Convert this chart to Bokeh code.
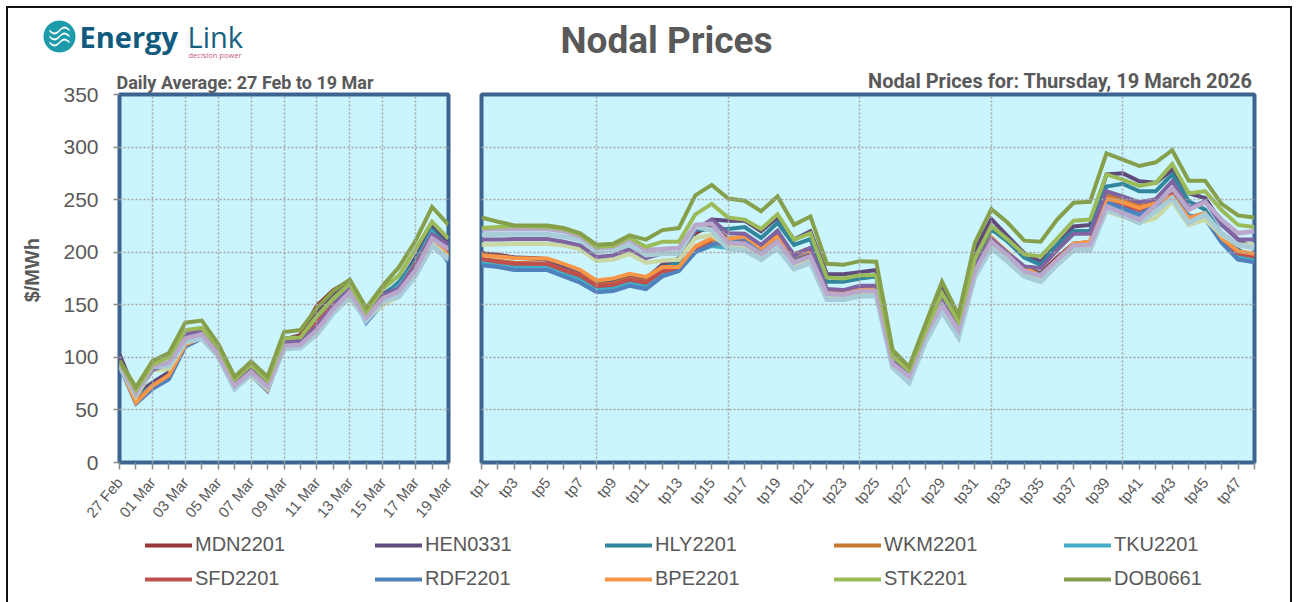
import math
from bokeh.embed import file_html
from bokeh.layouts import column, row
from bokeh.models import (FixedTicker, Label, Legend, LegendItem, PolyAnnotation, Range1d)
from bokeh.plotting import figure
from bokeh.resources import INLINE

DAYS = ["27 Feb", "28 Feb"] + [f"{d:02d} Mar" for d in range(1, 20)]
PERIODS = [f"tp{i}" for i in range(1, 49)]

# Half-hour prices, $/MWh
MDN = [199,197.5,195,194.5,193.5,187,182,171,172,176,174,188,194,218,226,212,213,203,216,198,204,163,162,165,166,93,81,121,153,126,186,213,199,185,180,195,208,209,252,248,243,247,255,233,236,214,200,197]
HEN = [198,197,195,194,193,187,182,172,173,177,175,188,194,221,231,230,230,220,233,212,220,179,179,181,183,102,88,128,166,137,202,231.5,215,199,191,207,224.5,226,274,275,267.5,266,278.5,256,251.5,228,212,203]
HLY = [190.5,189,187,186.5,186,180,175,167,168,172,170,185,190,221,222,222,224,213.5,228,207,212.5,172,172,175,177,98,85,125,158,132,190,222,210,195,188,207,220,220.5,262.5,265,258,258,274,248.5,240.5,218,202.5,194.5]
WKM = [193,192,190,189.5,189,183,178,169,170,175,172,184,185,204,212,213,214,204,214,197,203,162,161,164,165,92,80,120,152,125,185,214,199,185,178,193,208,210,254,250,245,242,253,233,237,213,199,197]
TKU = [191,189,186,185.5,185,179,173,164,165,170,167,178,183,200,206,204,206,198,210,192,197,160,159,162,163,91,79,119,150,123,183,210,197,184,179,192,205,207,248,241,235,244,252,234,232,210,196,192]
SFD = [193.5,191,189,189,189,183,178,168,169,174,171,182,183,201,208,209,210,201,212,195,200,161,160,163,164,92,80,120,151,124,184,212,198,184,178,193,206,205.5,250,245,240,246,254,232,235,212,199,196]
RDF = [187.5,186,183,183,183,177,171,162,163,168,165,177,182,200,207,212,213,202,213,196,201,160,159,162,163,91,79,119,150,123,183,210,197,183,178,192,205,207,248,242,236,245,253,235,232,209,193,190.5]
BPE = [197,196,194.5,194,194,189,183,173,175,179.5,176.5,186,186,205.5,213.5,212.5,215,204,215,197,202,162,161,164,165,92,80,120,152,125,185,213.5,200,186,177,191,208,210,251,247.5,242,247,253,232.5,237,213.5,201,198.5]
STK = [223,224,225,224.5,224,222,217,205,206,214,205,210,210,236,246,233,231,222,236,212,218,176,175,178,178,101,87.5,125,161,134,194,225,212,198,196,213,230,231,274,269,263,266,284,256,258,240,226,224]
DOB = [233,229,225.5,225.5,225.5,223,218,207,208,216,212,221,223,254,264,251,249,239,253,226,234,189,188,191.5,191,107,91,132,172,140.5,209,241,228,211,210,231,247,248,294,288,282,285.5,297,268,268,246,235,233]
# Unlabelled paler series visible in the chart
PALE1 = [212,212,212.5,212.5,212.5,210,206.5,195.5,197,203,194.5,199,199,221,231,218,217.5,207,220.5,197,204,165,164,168,168,96,83.5,125,153,129,187,212.5,199,186.5,185,202,217.5,217.5,258,253,247.5,250.5,267.5,242,248.5,226,212,212]
PALE2 = [221.5,222,222,222,222,220,215,204,205.5,212,202,203,204,226,227,209,208,198.5,210,190,196,160.5,159.5,163,163,94,82,122,150,126,182,210,197,182,177.5,193,206.5,207,243.5,237,231,245,261,240.5,247.5,231,218,220]
PALE3 = [216.5,217,217,217,217,215,212,200,202,207,197.5,198.5,199,224.5,221,203,202,193,204,184,190,155,155,158,158.5,90.5,76,115,143.7,119,177,204,191,177,172,188,202,202,240.5,235,228,239,251.5,228,236,218,207,204]
PALE4 = [207,207.5,208,208,208,206.5,203,192,193,198.5,190,192,193,213.5,216.5,205,204,196,207,187,193,157,157,160,160,92,78,118,147,122,180,207,194,180,175,190,204,204,239,234,228,232.5,248.5,226,231,216.5,207,207]

# Daily averages, $/MWh
MDN_D = [98,60,75,84,115,121,104,74,85,70,117,121,149,164,173,137,155,165,190,218,200]
HEN_D = [103,65,76,86,122,125,106,76,88,74,116,117,142,160,172,141,160,170,195,224,208]
HLY_D = [95,60,73,82,114,120,103,75,86,72,118,119,135,152,168,138,158,172,192,221,205]
WKM_D = [93,58,72,81,113,120,103,73,84,70,112,113,131,150,165,136,155,165,188,216,197]
TKU_D = [94,60,73,82,114,120,103,74,85,71,113,114,134,152,166,137,156,168,190,219,201]
SFD_D = [94,59,72,81,113,120,103,73,84,70,113,114,133,150,164,135,155,165,189,216,198]
RDF_D = [92,56,70,79,110,118,102,72,83,68,111,111,128,148,163,133,151,160,183,212,190]
BPE_D = [93,57,73,83,112,119,102,73,84,69,112,113,130,149,164,136,154,163,187,214,196]
STK_D = [96,69,93,100,126,128,110,79,93,78,118,119,139,156,170,143,165,178,203,229,213]
DOB_D = [97,71.5,96.5,104,133,135,113,81.5,96,81.5,124,126,147,163,174,147,168,186,211,243,226]
PALE1_D = [96,66,88,94,122,125,106,76,89,74,114,115,130,149,165,141,159,166,187,217,207]
PALE2_D = [94,66,91,95,118,122,103,73,86,72,111,112,126,146,162,138,156,163,183,213,203]
PALE3_D = [91,65,91,92,115,118,101,70,84,71,108,109,122,142,158,135,153,158,178,206,193]
PALE4_D = [92,63,88,89,114,118,101,71,83,70,110,110,124,144,156,136,150,158,180,208,195]

NAMES = ["MDN2201","HEN0331","HLY2201","WKM2201","TKU2201","SFD2201","RDF2201","BPE2201","STK2201","DOB0661"]
COLORS = ["#953735","#604A7B","#31859C","#C8772F","#45ACC8","#C0504D","#4F81BD","#F79646","#9BBB59","#869F4A"]
PANEL = "#CBF5FE"
GREY = "#595959"
BLUE = "#3C6491"

# (intraday, daily, colour, width) in drawing order
LAYERS = [
    (MDN, MDN_D, COLORS[0], 4), (HEN, HEN_D, COLORS[1], 4), (HLY, HLY_D, COLORS[2], 4),
    (WKM, WKM_D, COLORS[3], 4), (TKU, TKU_D, COLORS[4], 4), (SFD, SFD_D, COLORS[5], 4),
    (RDF, RDF_D, COLORS[6], 4), (BPE, BPE_D, COLORS[7], 4),
    (PALE4, PALE4_D, "#C9D8A5", 4.5), (PALE1, PALE1_D, "#8064A2", 4),
    (PALE3, PALE3_D, "#A8CCD8", 5), (PALE2, PALE2_D, "#B9A7CC", 4.5),
    (STK, STK_D, COLORS[8], 4), (DOB, DOB_D, COLORS[9], 4),
]

# The page sits at (8, 8); all px values below are page pixels.
HEAD_H, TOP_H, LEG_H = 54, 468, 64
FT, FH = 32, 368          # frame top offset and height inside the chart row


def make(width, bl, fw, n, labels, grid_step, yaxis, title, tsize, talign, toffset):
    p = figure(width=width, height=TOP_H, frame_width=fw, frame_height=FH,
               min_border_left=bl, min_border_right=width - bl - fw,
               min_border_top=FT, min_border_bottom=TOP_H - FT - FH,
               x_range=Range1d(0, n - 1), y_range=Range1d(0, 350),
               output_backend="svg", toolbar_location=None,
               background_fill_color=PANEL, border_fill_color="white",
               outline_line_color=BLUE, outline_line_width=4, title=title)
    p.title.text_font = "Roboto"
    p.title.text_font_style = "bold"
    p.title.text_font_size = tsize
    p.title.text_color = GREY
    p.title.align = talign
    p.title.offset = toffset
    p.title.standoff = 4
    ax = p.xaxis[0]
    ax.ticker = FixedTicker(ticks=list(range(n)))
    ax.major_label_overrides = {i: (labels[i] if i % 2 == 0 else "") for i in range(n)}
    ax.major_label_orientation = 0.87
    ax.major_label_standoff = 10
    ax.major_label_text_font = "Liberation Sans"
    ax.major_label_text_font_size = "15px"
    ax.major_label_text_color = GREY
    ax.major_tick_line_color = "#8C8C8C"
    ax.major_tick_line_width = 1.5
    ax.major_tick_out = 7
    ax.major_tick_in = 0
    ax.minor_tick_line_color = None
    ax.axis_line_color = None
    ay = p.yaxis[0]
    ay.ticker = FixedTicker(ticks=list(range(0, 351, 50)))
    ay.minor_tick_line_color = None
    ay.axis_line_color = None
    ay.major_tick_line_color = "#8C8C8C"
    ay.major_tick_line_width = 1.5
    ay.major_tick_out = 6
    ay.major_tick_in = 0
    ay.major_label_standoff = 15
    ay.major_label_text_font = "Liberation Sans"
    ay.major_label_text_font_size = "21px"
    ay.major_label_text_color = GREY
    ay.axis_label = "\u00a0\u00a0\u00a0$/MWh"
    ay.axis_label_text_font = "Liberation Sans"
    ay.axis_label_text_font_style = "bold"
    ay.axis_label_text_font_size = "20px"
    ay.axis_label_text_color = GREY
    ay.axis_label_standoff = 17
    ay.visible = yaxis
    p.xgrid[0].ticker = FixedTicker(ticks=list(range(grid_step - (0 if n == 21 else 1), n, grid_step)))
    p.ygrid[0].ticker = FixedTicker(ticks=list(range(50, 351, 50)))
    for g in (p.xgrid[0], p.ygrid[0]):
        g.grid_line_color = "#A6A6A6"
        g.grid_line_dash = "2 2"
        g.grid_line_width = 1.5
        g.level = "overlay"
    return p


left = make(457, 111, 329, 21, DAYS, 2, True, "Daily Average: 27 Feb to 19 Mar", "18px", "left", -3)
right = make(823, 16, 773, 48, PERIODS, 8, False, "Nodal Prices for: Thursday, 19 March 2026", "20px", "right", 2)

xd = list(range(21))
xt = list(range(48))
for tp, d, c, w in LAYERS:
    left.line(xd, d, line_color=c, line_width=w, line_join="miter")
    right.line(xt, tp, line_color=c, line_width=w, line_join="miter")

# Header strip: a figure whose frame fills the canvas
head = figure(width=1280, height=HEAD_H, x_range=Range1d(0, 1), y_range=Range1d(0, 1),
              output_backend="svg", toolbar_location=None, min_border=0,
              x_axis_type=None, y_axis_type=None, outline_line_color=None,
              background_fill_color="white", border_fill_color="white")
head.grid.visible = False


def text(s, px, py, size, color=GREY, bold=False, font="Roboto", align="left"):
    head.add_layout(Label(x=px - 8, y=(8 + HEAD_H) - py, x_units="screen", y_units="screen", text=s,
                          text_font=font, text_font_size=size, text_color=color, text_align=align,
                          text_baseline="middle", text_font_style="bold" if bold else "normal"))


def poly(xs, ys, color):
    head.add_layout(PolyAnnotation(xs=[x - 8 for x in xs], ys=[(8 + HEAD_H) - y for y in ys],
                                   xs_units="screen", ys_units="screen",
                                   fill_color=color, fill_alpha=1, line_color=None))


text("Nodal Prices", 666, 40, "37px", bold=True, align="center")
text("Energy", 79, 36, "29px", color="#0F5A7D", bold=True, font="Open Sans")
text("Link", 187, 36, "29px", color="#14607F", font="Open Sans")
text("decision power", 188, 54, "7.5px", color="#C8557F", font="Open Sans")

cx, cy, rad = 59, 36, 16
angles = [2 * math.pi * i / 48 for i in range(48)]
poly([cx + rad * math.cos(a) for a in angles], [cy + rad * math.sin(a) for a in angles], "#1E9BAA")
for off in (-6, 0, 6):
    span = [i / 10 for i in range(-10, 11)]
    top = [(cx + 10 * t, cy + off - 3 * math.sin(t * math.pi) - 1) for t in span]
    bot = [(cx + 10 * t, cy + off - 3 * math.sin(t * math.pi) + 1) for t in reversed(span)]
    poly([a for a, _ in top + bot], [b for _, b in top + bot], "white")

# Legend strip
strip = figure(width=1280, height=LEG_H, x_range=Range1d(0, 1), y_range=Range1d(0, 1),
               output_backend="svg", toolbar_location=None, min_border=0,
               x_axis_type=None, y_axis_type=None, outline_line_color=None,
               background_fill_color="white", border_fill_color="white")
strip.grid.visible = False
LEG_X = [137, 367, 597, 826, 1056]
for col in range(5):
    items = []
    for k in (col, col + 5):
        r_ = strip.line(x=[-2, -1], y=[-2, -1], line_color=COLORS[k], line_width=4, line_cap="round")
        items.append(LegendItem(label=NAMES[k], renderers=[r_]))
    lg = Legend(items=items, location=(LEG_X[col], 4), orientation="vertical", padding=0, margin=0,
                spacing=11, glyph_width=47, glyph_height=20, label_height=20, label_standoff=3,
                label_text_font="Liberation Sans", label_text_font_size="20px", label_text_color=GREY,
                border_line_color=None, background_fill_alpha=0)
    strip.add_layout(lg, "center")

page = column(head, row(left, right, spacing=0), strip, spacing=0, margin=(8, 8, 0, 8))
page.styles = {"box-shadow": "2px 0 0 0 white, 2px 8px 0 0 white, 0 8px 0 0 white, "
                             "-2px -2px 0 0 #111, -2px 8px 0 0 #111, 4px -2px 0 0 #111, 4px 8px 0 0 #111"}

open("out.html", "w").write(file_html(page, INLINE))
